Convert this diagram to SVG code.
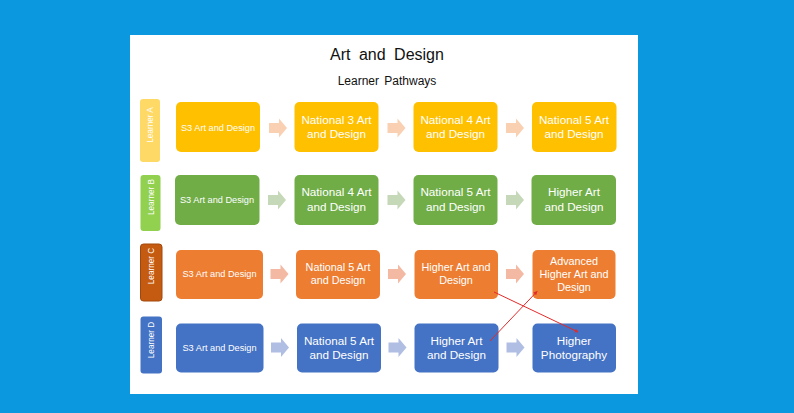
<svg xmlns="http://www.w3.org/2000/svg" width="794" height="413" viewBox="0 0 794 413">
<style>
.t{font-family:"Liberation Sans",Arial,sans-serif;fill:#fff;text-anchor:middle}
.m{font-size:11.7px}
.c{font-size:10.8px}
.s{font-size:9.2px}
.lab{font-size:8.2px}
.ya{fill:#FFC000}.gb{fill:#70AD47}.oc{fill:#ED7D31}.bd{fill:#4472C4}
.aa{fill:#FAD0B2}.ab{fill:#C5D8B8}.ac{fill:#F4B9A2}.ad{fill:#B0BEE3}
.red{stroke:#E32B2B;stroke-width:1;fill:none;marker-end:url(#rh)}
</style>
<defs>
<path id="arr" d="M0,-5 H10 V-9.5 L18,0 L10,9.5 V5 H0 Z"/>
<marker id="rh" viewBox="0 0 6 6" refX="5" refY="3" markerWidth="4" markerHeight="4" orient="auto"><path d="M0,0 L6,3 L0,6 Z" fill="#E32B2B"/></marker>
</defs>
<rect width="794" height="413" fill="#0C98DE"/>
<rect x="130" y="35" width="508" height="359" fill="#fff"/>
<text x="387" y="60" font-family="Liberation Sans,Arial,sans-serif" font-size="16" word-spacing="4" text-anchor="middle" fill="#111">Art and Design</text>
<text x="387" y="85" font-family="Liberation Sans,Arial,sans-serif" font-size="12" word-spacing="2" text-anchor="middle" fill="#111">Learner Pathways</text>

<g id="learnerA"><rect x="140" y="99" width="20" height="63" rx="3" fill="#FFD966"/><text class="t lab" transform="translate(153,125) rotate(-90)">Learner A</text></g>
<g id="learnerB"><rect x="140.5" y="175" width="20" height="56" rx="3" fill="#92D050"/><text class="t lab" transform="translate(153.5,197) rotate(-90)">Learner B</text></g>
<g id="learnerC"><rect x="140.5" y="244" width="21.5" height="57" rx="3" fill="#C55A11" stroke="#A3480C" stroke-width="1"/><text class="t lab" transform="translate(154.3,266) rotate(-90)">Learner C</text></g>
<g id="learnerD"><rect x="140.5" y="316.5" width="21.5" height="57" rx="3" fill="#4472C4"/><text class="t lab" transform="translate(154.3,340) rotate(-90)">Learner D</text></g>

<g id="a1"><rect class="ya" x="176" y="102" width="84" height="50" rx="5"/><text class="t s" x="218" y="130.5">S3 Art and Design</text></g>
<g id="a2"><rect class="ya" x="294.5" y="102" width="84" height="50" rx="5"/><text class="t m" x="336.5" y="123.5">National 3 Art</text><text class="t m" x="336.5" y="137.5">and Design</text></g>
<g id="a3"><rect class="ya" x="413.5" y="102" width="84" height="50" rx="5"/><text class="t m" x="455.5" y="123.5">National 4 Art</text><text class="t m" x="455.5" y="137.5">and Design</text></g>
<g id="a4"><rect class="ya" x="532" y="102" width="84.5" height="50" rx="5"/><text class="t m" x="574" y="123.5">National 5 Art</text><text class="t m" x="574" y="137.5">and Design</text></g>

<g id="b1"><rect class="gb" x="175" y="175" width="84.5" height="50" rx="5"/><text class="t s" x="217" y="203.3">S3 Art and Design</text></g>
<g id="b2"><rect class="gb" x="294.5" y="175" width="84" height="50" rx="5"/><text class="t m" x="336.5" y="196">National 4 Art</text><text class="t m" x="336.5" y="210.5">and Design</text></g>
<g id="b3"><rect class="gb" x="413.5" y="175" width="84" height="50" rx="5"/><text class="t m" x="455.5" y="196">National 5 Art</text><text class="t m" x="455.5" y="210.5">and Design</text></g>
<g id="b4"><rect class="gb" x="531.5" y="175" width="84.5" height="50" rx="5"/><text class="t m" x="574" y="196">Higher Art</text><text class="t m" x="574" y="210.5">and Design</text></g>

<g id="c1"><rect class="oc" x="176" y="250" width="87" height="49" rx="5"/><text class="t s" x="219.5" y="277.3">S3 Art and Design</text></g>
<g id="c2"><rect class="oc" x="296" y="250" width="84" height="49" rx="5"/><text class="t c" x="338" y="271.3">National 5 Art</text><text class="t c" x="338" y="284.3">and Design</text></g>
<g id="c3"><rect class="oc" x="414.5" y="250" width="83.5" height="49" rx="5"/><text class="t c" x="456" y="271.3">Higher Art and</text><text class="t c" x="456" y="284.3">Design</text></g>
<g id="c4"><rect class="oc" x="532.5" y="250" width="83" height="49" rx="5"/><text class="t c" x="574" y="264.5">Advanced</text><text class="t c" x="574" y="277.5">Higher Art and</text><text class="t c" x="574" y="290.5">Design</text></g>

<g id="d1"><rect class="bd" x="176" y="323.5" width="87.5" height="49" rx="5"/><text class="t s" x="219.5" y="351">S3 Art and Design</text></g>
<g id="d2"><rect class="bd" x="297" y="323.5" width="84" height="49" rx="5"/><text class="t m" x="339" y="345">National 5 Art</text><text class="t m" x="339" y="359">and Design</text></g>
<g id="d3"><rect class="bd" x="414.5" y="323.5" width="84" height="49" rx="5"/><text class="t m" x="456.5" y="345">Higher Art</text><text class="t m" x="456.5" y="359">and Design</text></g>
<g id="d4"><rect class="bd" x="532.5" y="323.5" width="83.5" height="49" rx="5"/><text class="t m" x="574" y="345">Higher</text><text class="t m" x="574" y="359">Photography</text></g>

<g id="connectors">
<use href="#arr" class="aa" x="269" y="128"/>
<use href="#arr" class="aa" x="387.5" y="128"/>
<use href="#arr" class="aa" x="506" y="128"/>
<use href="#arr" class="ab" x="268" y="200"/>
<use href="#arr" class="ab" x="387.5" y="200"/>
<use href="#arr" class="ab" x="506" y="200"/>
<use href="#arr" class="ac" x="270.5" y="274"/>
<use href="#arr" class="ac" x="388" y="274"/>
<use href="#arr" class="ac" x="506" y="274"/>
<use href="#arr" class="ad" x="271" y="347.5"/>
<use href="#arr" class="ad" x="388.5" y="347.5"/>
<use href="#arr" class="ad" x="506.5" y="347.5"/>
<line class="red" x1="494" y1="292" x2="578" y2="332"/>
<line class="red" x1="490" y1="341" x2="537" y2="291.5"/>
</g>
</svg>
